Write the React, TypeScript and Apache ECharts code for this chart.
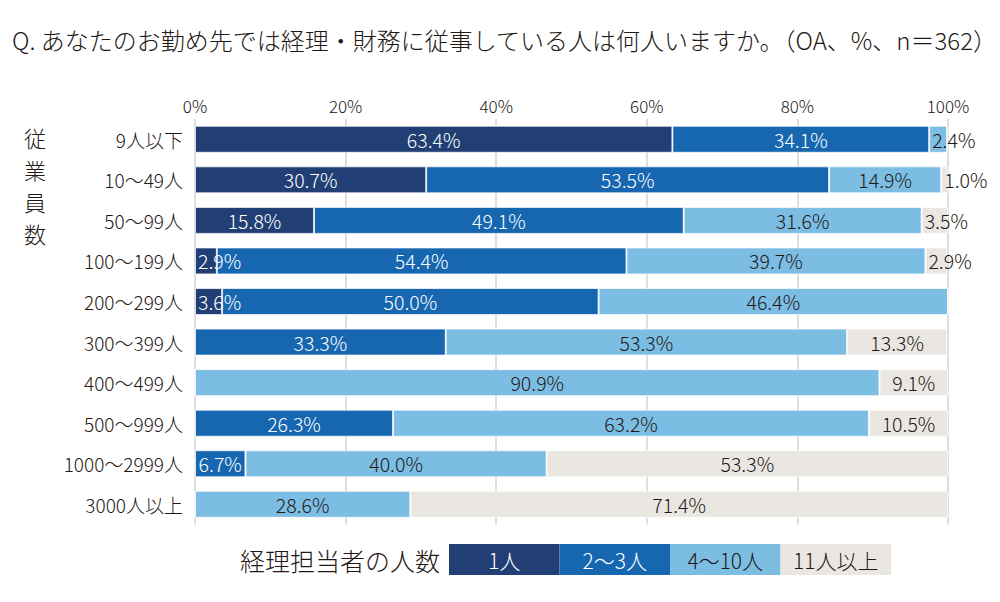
import React, { useEffect, useRef } from "react";
import * as echarts from "echarts";

const titleText = "Q. あなたのお勤め先では経理・財務に従事している人は何人いますか。（OA、%、n＝362）";
const yTitle = "従業員数";
const legendTitle = "経理担当者の人数";

const categories = [
  "9人以下",
  "10〜49人",
  "50〜99人",
  "100〜199人",
  "200〜299人",
  "300〜399人",
  "400〜499人",
  "500〜999人",
  "1000〜2999人",
  "3000人以上",
];

const seriesNames = ["1人", "2〜3人", "4〜10人", "11人以上"];
const one = [63.4, 30.7, 15.8, 2.9, 3.6, 0, 0, 0, 0, 0];
const twoToThree = [34.1, 53.5, 49.1, 54.4, 50.0, 33.3, 0, 26.3, 6.7, 0];
const fourToTen = [2.4, 14.9, 31.6, 39.7, 46.4, 53.3, 90.9, 63.2, 40.0, 28.6];
const elevenPlus = [0, 1.0, 3.5, 2.9, 0, 13.3, 9.1, 10.5, 53.3, 71.4];
const xTicks = [0, 20, 40, 60, 80, 100];

const colors = ["#213f74", "#1666b0", "#7cbee3", "#eae7e3"];
const labelColors = ["#ffffff", "#ffffff", "#231815", "#231815"];
const textColor = "#231815";
const FONT = "'Noto Sans CJK JP', 'Noto Sans', sans-serif";

export default function App() {
  const ref = useRef<HTMLDivElement>(null);

  useEffect(() => {
    document.body.style.margin = "0";
    const chart = echarts.init(ref.current!, null, { renderer: "svg" });
    const all = [one, twoToThree, fourToTen, elevenPlus];

    const series = all.map((vals, si) => ({
      name: seriesNames[si],
      type: "bar",
      stack: "total",
      barWidth: 27,
      itemStyle: {
        color: colors[si],
        borderColor: "rgba(255,255,255,0.7)",
        borderWidth: 1,
      },
      data: vals.map((v) => ({
        value: v,
        label:
          v > 0 && v < 5
            ? { show: true, position: "insideLeft", distance: 3 }
            : { show: v > 0, position: "inside" },
      })),
      label: {
        color: labelColors[si],
        fontSize: 19.5,
        fontWeight: 300,
        fontFamily: FONT,
        formatter: (p: any) => (p.value > 0 ? p.value.toFixed(1) + "%" : ""),
      },
    }));

    const legendX = 449;
    const legendW = 110.5;
    const legendGraphics: any[] = [];
    seriesNames.forEach((n, i) => {
      legendGraphics.push({
        type: "rect",
        shape: { x: legendX + i * legendW, y: 544, width: legendW, height: 31 },
        style: { fill: colors[i] },
      });
      legendGraphics.push({
        type: "text",
        x: legendX + i * legendW + legendW / 2,
        y: 560,
        style: {
          text: n,
          fill: labelColors[i],
          fontSize: 21,
          fontWeight: 300,
          fontFamily: FONT,
          align: "center",
          verticalAlign: "middle",
        },
      });
    });

    const yTitleGraphics = yTitle.split("").map((ch, i) => ({
      type: "text",
      x: 35,
      y: 137 + i * 32,
      style: {
        text: ch,
        fill: textColor,
        fontSize: 22,
        lineHeight: 22,
        fontWeight: 300,
        fontFamily: FONT,
        align: "center",
        verticalAlign: "middle",
      },
    }));

    chart.setOption({
      animation: false,
      backgroundColor: "#ffffff",
      grid: { left: 195, top: 119, width: 753, height: 405.6 },
      xAxis: {
        type: "value",
        position: "top",
        min: 0,
        max: 100,
        interval: 20,
        axisLine: { show: false },
        axisTick: { show: false },
        axisLabel: {
          color: textColor,
          fontSize: 17,
          fontWeight: 300,
          fontFamily: FONT,
          margin: 5,
          formatter: (v: number) => (xTicks.includes(v) ? v + "%" : ""),
        },
        splitLine: { show: true, lineStyle: { color: "#d3d3d3", width: 1.5 } },
      },
      yAxis: {
        type: "category",
        inverse: true,
        data: categories,
        axisLine: { show: false },
        axisTick: { show: false },
        axisLabel: {
          color: textColor,
          fontSize: 19,
          fontWeight: 300,
          fontFamily: FONT,
          margin: 12,
        },
      },
      series,
      graphic: [
        {
          type: "text",
          left: 12,
          top: 27,
          style: {
            text: titleText,
            fill: textColor,
            fontSize: 24,
            fontWeight: 300,
            fontFamily: FONT,
          },
        },
        ...yTitleGraphics,
        {
          type: "text",
          x: 440,
          y: 560,
          style: {
            text: legendTitle,
            fill: textColor,
            fontSize: 25,
            fontWeight: 300,
            fontFamily: FONT,
            align: "right",
            verticalAlign: "middle",
          },
        },
        ...legendGraphics,
      ],
    });
    return () => chart.dispose();
  }, []);

  return (
    <div
      ref={ref}
      style={{ position: "absolute", left: 0, top: 0, width: 1000, height: 602 }}
    />
  );
}
